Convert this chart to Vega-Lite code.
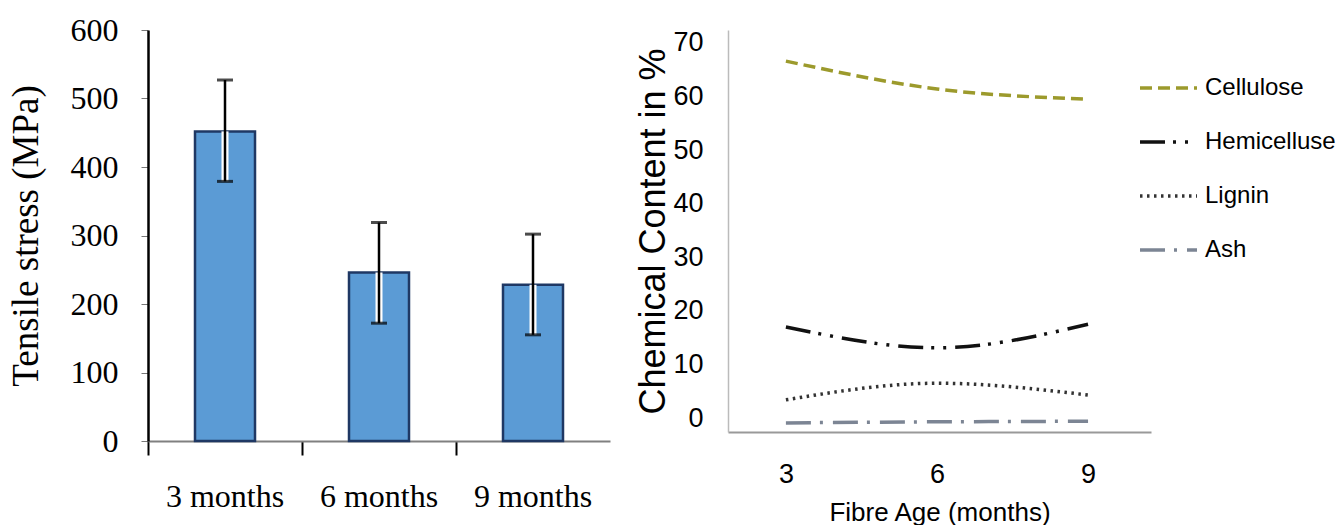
{
  "$schema": "https://vega.github.io/schema/vega-lite/v6.json",
  "background": "white",
  "padding": {"left": 7, "top": 14, "right": 0, "bottom": 0},
  "config": {"view": {"stroke": null}, "concat": {"spacing": 25}},
  "datasets": {
    "bars": [
      {"age": "3 months", "stress": 452, "lo": 379, "hi": 527},
      {"age": "6 months", "stress": 246, "lo": 172, "hi": 319},
      {"age": "9 months", "stress": 228, "lo": 155, "hi": 302}
    ],
    "chem": [
      {"component": "Cellulose", "age": 3, "value": 66.6},
      {"component": "Cellulose", "age": 6, "value": 61.4},
      {"component": "Cellulose", "age": 9, "value": 59.5},
      {"component": "Hemicelluse", "age": 3, "value": 17.0},
      {"component": "Hemicelluse", "age": 6, "value": 13.1},
      {"component": "Hemicelluse", "age": 9, "value": 17.5},
      {"component": "Lignin", "age": 3, "value": 3.4},
      {"component": "Lignin", "age": 6, "value": 6.5},
      {"component": "Lignin", "age": 9, "value": 4.3},
      {"component": "Ash", "age": 3, "value": -0.9},
      {"component": "Ash", "age": 6, "value": -0.7},
      {"component": "Ash", "age": 9, "value": -0.6}
    ]
  },
  "hconcat": [
    {
      "width": 462,
      "height": 411,
      "data": {"name": "bars"},
      "encoding": {
        "x": {
          "field": "age",
          "type": "nominal",
          "sort": null,
          "scale": {"paddingInner": 0, "paddingOuter": 0},
          "axis": {
            "title": null,
            "bandPosition": 0,
            "labelAngle": 0,
            "labelFont": "Liberation Serif",
            "labelFontSize": 32,
            "labelColor": "black",
            "labelPadding": 26,
            "domainColor": "#808080",
            "domainWidth": 2,
            "tickColor": "black",
            "tickWidth": 2,
            "tickSize": 14
          }
        }
      },
      "layer": [
        {
          "mark": {"type": "bar", "fill": "#5b9bd5", "stroke": "#1f3864", "strokeWidth": 2.5, "width": 60},
          "encoding": {
            "y": {
              "field": "stress",
              "type": "quantitative",
              "scale": {"domain": [0, 600], "nice": false},
              "axis": {
                "title": "Tensile stress (MPa)",
                "titleFont": "Liberation Serif",
                "titleFontSize": 37,
                "titleFontWeight": "normal",
                "titleColor": "black",
                "titlePadding": 25,
                "values": [0, 100, 200, 300, 400, 500, 600],
                "labelFont": "Liberation Serif",
                "labelFontSize": 32,
                "labelColor": "black",
                "labelPadding": 23,
                "tickSize": 7,
                "tickColor": "#777777",
                "tickWidth": 1,
                "domainColor": "black",
                "domainWidth": 2.5,
                "grid": false
              }
            }
          }
        },
        {
          "mark": {"type": "rule", "color": "white", "strokeWidth": 7},
          "encoding": {
            "y": {"field": "lo", "type": "quantitative"},
            "y2": {"field": "stress"}
          }
        },
        {
          "mark": {"type": "rule", "color": "black", "strokeWidth": 2.5},
          "encoding": {
            "y": {"field": "lo", "type": "quantitative"},
            "y2": {"field": "hi"}
          }
        },
        {
          "mark": {"type": "tick", "color": "black", "thickness": 3, "size": 16},
          "encoding": {"y": {"field": "lo", "type": "quantitative"}}
        },
        {
          "mark": {"type": "tick", "color": "black", "thickness": 3, "size": 16},
          "encoding": {"y": {"field": "hi", "type": "quantitative"}}
        }
      ]
    },
    {
      "width": 423,
      "height": 402,
      "data": {"name": "chem"},
      "mark": {"type": "line", "interpolate": "monotone"},
      "encoding": {
        "x": {
          "field": "age",
          "type": "quantitative",
          "scale": {"domain": [1.85, 10.25], "nice": false, "zero": false},
          "axis": {
            "title": "Fibre Age (months)",
            "values": [3, 6, 9],
            "ticks": false,
            "tickSize": 0,
            "grid": false,
            "labelFont": "Liberation Sans",
            "labelFontSize": 27,
            "labelColor": "black",
            "labelPadding": 29,
            "titleFont": "Liberation Sans",
            "titleFontSize": 26,
            "titleFontWeight": "normal",
            "titleColor": "black",
            "titlePadding": 12,
            "domainColor": "#999999",
            "domainWidth": 2
          }
        },
        "y": {
          "field": "value",
          "type": "quantitative",
          "scale": {"domain": [-2.6, 72.4], "nice": false, "zero": false},
          "axis": {
            "title": "Chemical Content in %",
            "values": [0, 10, 20, 30, 40, 50, 60, 70],
            "ticks": false,
            "tickSize": 0,
            "grid": false,
            "labelFont": "Liberation Sans",
            "labelFontSize": 27,
            "labelColor": "black",
            "labelPadding": 25,
            "titleFont": "Liberation Sans",
            "titleFontSize": 36,
            "titleFontWeight": "normal",
            "titleColor": "black",
            "titlePadding": 0,
            "domainColor": "#bbbbbb",
            "domainWidth": 1.5
          }
        },
        "color": {
          "field": "component",
          "type": "nominal",
          "scale": {
            "domain": ["Cellulose", "Hemicelluse", "Lignin", "Ash"],
            "range": ["#9c9a2c", "#111111", "#333333", "#7c8594"]
          },
          "legend": {
            "title": null,
            "orient": "none",
            "legendX": 990,
            "legendY": 43,
            "padding": 0,
            "symbolType": "stroke",
            "symbolSize": 3249,
            "symbolStrokeWidth": 3.5,
            "clipHeight": 30,
            "rowPadding": 24,
            "labelFont": "Liberation Sans",
            "labelFontSize": 24,
            "labelColor": "black",
            "labelOffset": 6
          }
        },
        "strokeDash": {
          "field": "component",
          "type": "nominal",
          "scale": {
            "domain": ["Cellulose", "Hemicelluse", "Lignin", "Ash"],
            "range": [[12, 6], [25, 8, 3, 9, 3, 9], [2.5, 4.5], [25, 9, 3, 10]]
          },
          "legend": {
            "title": null,
            "orient": "none",
            "legendX": 990,
            "legendY": 43,
            "padding": 0,
            "symbolType": "stroke",
            "symbolSize": 3249,
            "symbolStrokeWidth": 3.5,
            "clipHeight": 30,
            "rowPadding": 24,
            "labelFont": "Liberation Sans",
            "labelFontSize": 24,
            "labelColor": "black",
            "labelOffset": 6
          }
        },
        "strokeWidth": {
          "field": "component",
          "type": "nominal",
          "scale": {
            "domain": ["Cellulose", "Hemicelluse", "Lignin", "Ash"],
            "range": [3.5, 3.5, 2.5, 4]
          },
          "legend": null
        }
      }
    }
  ]
}
